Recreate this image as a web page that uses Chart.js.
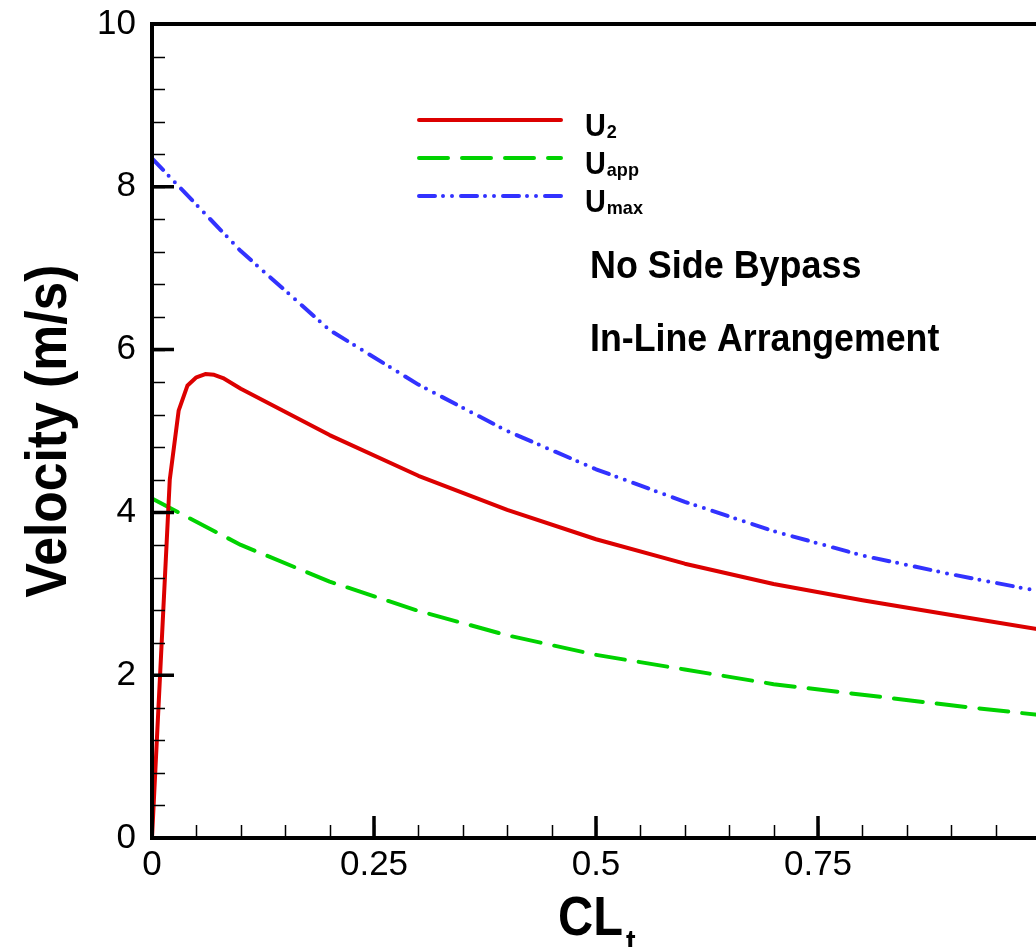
<!DOCTYPE html>
<html>
<head>
<meta charset="utf-8">
<script src="https://cdn.jsdelivr.net/npm/chart.js@4.4.1/dist/chart.umd.min.js"></script>
<style>
  html, body { margin: 0; padding: 0; background: #fff; overflow: hidden; }
  #wrap { width: 1050px; height: 947px; }
</style>
</head>
<body>
<div id="wrap"><canvas id="velChart" width="1050" height="947"></canvas></div>
<script>
// Velocity vs CLt

var u2X = [0, 0.02, 0.03, 0.04, 0.05, 0.06, 0.07, 0.08, 0.1, 0.2, 0.3, 0.4, 0.5, 0.6, 0.7, 0.8, 0.9, 1.0];
var u2 = [0, 4.40, 5.25, 5.56, 5.66, 5.70, 5.69, 5.65, 5.52, 4.95, 4.45, 4.03, 3.67, 3.37, 3.12, 2.92, 2.74, 2.56];

var clX = [0, 0.1, 0.2, 0.3, 0.4, 0.5, 0.6, 0.7, 0.8, 0.9, 1.0];
var uApp = [4.17, 3.60, 3.15, 2.79, 2.49, 2.25, 2.07, 1.89, 1.76, 1.63, 1.51];
var uMax = [8.35, 7.21, 6.24, 5.57, 5.00, 4.53, 4.13, 3.77, 3.47, 3.24, 3.03];

var seriesMain = ['U', 'U', 'U'];
var seriesSub = ['2', 'app', 'max'];
var xTicks = [0, 0.25, 0.5, 0.75];
var notes = ['No Side Bypass', 'In-Line Arrangement'];

function pts(xs, ys) {
  return xs.map(function (x, i) { return { x: x, y: ys[i] }; });
}

// draws text squeezed horizontally (the original font is a narrow helvetica)
function squeezed(ctx, txt, x, y, font, sx) {
  ctx.save();
  ctx.font = font;
  ctx.translate(x, y);
  ctx.scale(sx, 1);
  ctx.fillText(txt, 0, 0);
  var w = ctx.measureText(txt).width * sx;
  ctx.restore();
  return w;
}

var decor = {
  id: 'decor',
  afterDraw: function (chart) {
    var ctx = chart.ctx;
    var a = chart.chartArea;
    var xs = chart.scales.x, ys = chart.scales.y;
    ctx.save();
    ctx.strokeStyle = '#000';
    ctx.fillStyle = '#000';

    // minor ticks
    ctx.lineWidth = 1.5;
    ctx.beginPath();
    for (var i = 0; i <= 20; i++) {
      var px = Math.round(xs.getPixelForValue(i * 0.05)) + 0.5;
      ctx.moveTo(px, a.bottom); ctx.lineTo(px, a.bottom - 13);
    }
    for (var j = 0; j <= 25; j++) {
      var py = Math.round(ys.getPixelForValue(j * 0.4)) + 0.5;
      ctx.moveTo(a.left, py); ctx.lineTo(a.left + 13, py);
    }
    ctx.stroke();

    // major ticks
    ctx.lineWidth = 3.5;
    ctx.beginPath();
    for (var k = 0; k <= 4; k++) {
      var mx = xs.getPixelForValue(k * 0.25);
      ctx.moveTo(mx, a.bottom); ctx.lineTo(mx, a.bottom - 22);
    }
    for (var m = 0; m <= 5; m++) {
      var my = ys.getPixelForValue(m * 2);
      ctx.moveTo(a.left, my); ctx.lineTo(a.left + 22, my);
    }
    ctx.stroke();

    // frame
    ctx.lineWidth = 4;
    ctx.strokeRect(a.left, a.top, a.right - a.left, a.bottom - a.top);

    // axis titles
    ctx.textAlign = 'left';
    ctx.textBaseline = 'alphabetic';
    ctx.save();
    ctx.translate(66, (a.top + a.bottom) / 2);
    ctx.rotate(-Math.PI / 2);
    ctx.font = 'bold 58px "Liberation Sans", Arial, sans-serif';
    var tw = ctx.measureText('Velocity (m/s)').width * 0.89;
    squeezed(ctx, 'Velocity (m/s)', -tw / 2, 0, 'bold 58px "Liberation Sans", Arial, sans-serif', 0.89);
    ctx.restore();

    var cw = squeezed(ctx, 'CL', 558, 935, 'bold 56px "Liberation Sans", Arial, sans-serif', 0.87);
    squeezed(ctx, 't', 558 + cw + 3, 952, 'bold 32px "Liberation Sans", Arial, sans-serif', 0.9);

    // legend
    var ly = [120, 158, 196];
    chart.data.datasets.forEach(function (ds, i) {
      ctx.save();
      ctx.strokeStyle = ds.borderColor;
      ctx.lineWidth = ds.borderWidth;
      ctx.lineCap = 'round';
      ctx.setLineDash(ds.borderDash || []);
      ctx.beginPath();
      ctx.moveTo(419, ly[i]); ctx.lineTo(561, ly[i]);
      ctx.stroke();
      ctx.restore();
      var uw = squeezed(ctx, seriesMain[i], 585, ly[i] + 16, 'bold 31px "Liberation Sans", Arial, sans-serif', 0.93);
      squeezed(ctx, seriesSub[i], 585 + uw + 1, ly[i] + 18, 'bold 19px "Liberation Sans", Arial, sans-serif', 0.95);
    });

    // notes
    squeezed(ctx, notes[0], 590, 278, 'bold 38px "Liberation Sans", Arial, sans-serif', 0.945);
    squeezed(ctx, notes[1], 590, 351, 'bold 38px "Liberation Sans", Arial, sans-serif', 0.94);

    ctx.restore();
  }
};

var ctx = document.getElementById('velChart').getContext('2d');
var velChart = new Chart(ctx, {
  type: 'line',
  plugins: [decor],
  data: {
    datasets: [{
      label: 'U2',
      data: pts(u2X, u2),
      borderColor: '#dc0000',
      borderWidth: 4,
      borderDash: [],
      pointRadius: 0,
      tension: 0,
      borderCapStyle: 'round',
      borderJoinStyle: 'round'
    }, {
      label: 'Uapp',
      data: pts(clX, uApp),
      borderColor: '#00d200',
      borderWidth: 4,
      borderDash: [29, 14],
      pointRadius: 0,
      tension: 0,
      borderCapStyle: 'round',
      borderJoinStyle: 'round'
    }, {
      label: 'Umax',
      data: pts(clX, uMax),
      borderColor: '#3232ff',
      borderWidth: 4,
      borderDash: [16, 8, 0, 9, 0, 9],
      pointRadius: 0,
      tension: 0,
      borderCapStyle: 'round',
      borderJoinStyle: 'round'
    }]
  },
  options: {
    responsive: false,
    animation: false,
    layout: { padding: { top: 24, right: 10, left: 0, bottom: 0 } },
    plugins: {
      legend: { display: false },
      tooltip: { enabled: false }
    },
    scales: {
      x: {
        type: 'linear',
        min: 0,
        max: 1,
        afterFit: function (s) { s.height = 109; s.paddingLeft = 0; s.paddingRight = 0; },
        afterBuildTicks: function (s) {
          s.ticks = xTicks.map(function (v) { return { value: v }; });
        },
        grid: { display: false, drawTicks: false },
        border: { display: false },
        ticks: {
          autoSkip: false,
          maxRotation: 0,
          padding: 6,
          color: '#000',
          font: { family: '"Liberation Sans", Arial, sans-serif', size: 35 },
          callback: function (v) { return String(v); }
        }
      },
      y: {
        min: 0,
        max: 10,
        afterFit: function (s) { s.width = 152; s.paddingTop = 0; s.paddingBottom = 0; },
        grid: { display: false, drawTicks: false },
        border: { display: false },
        ticks: {
          stepSize: 2,
          padding: 16,
          color: '#000',
          font: { family: '"Liberation Sans", Arial, sans-serif', size: 35 }
        }
      }
    }
  }
});
</script>
</body>
</html>
